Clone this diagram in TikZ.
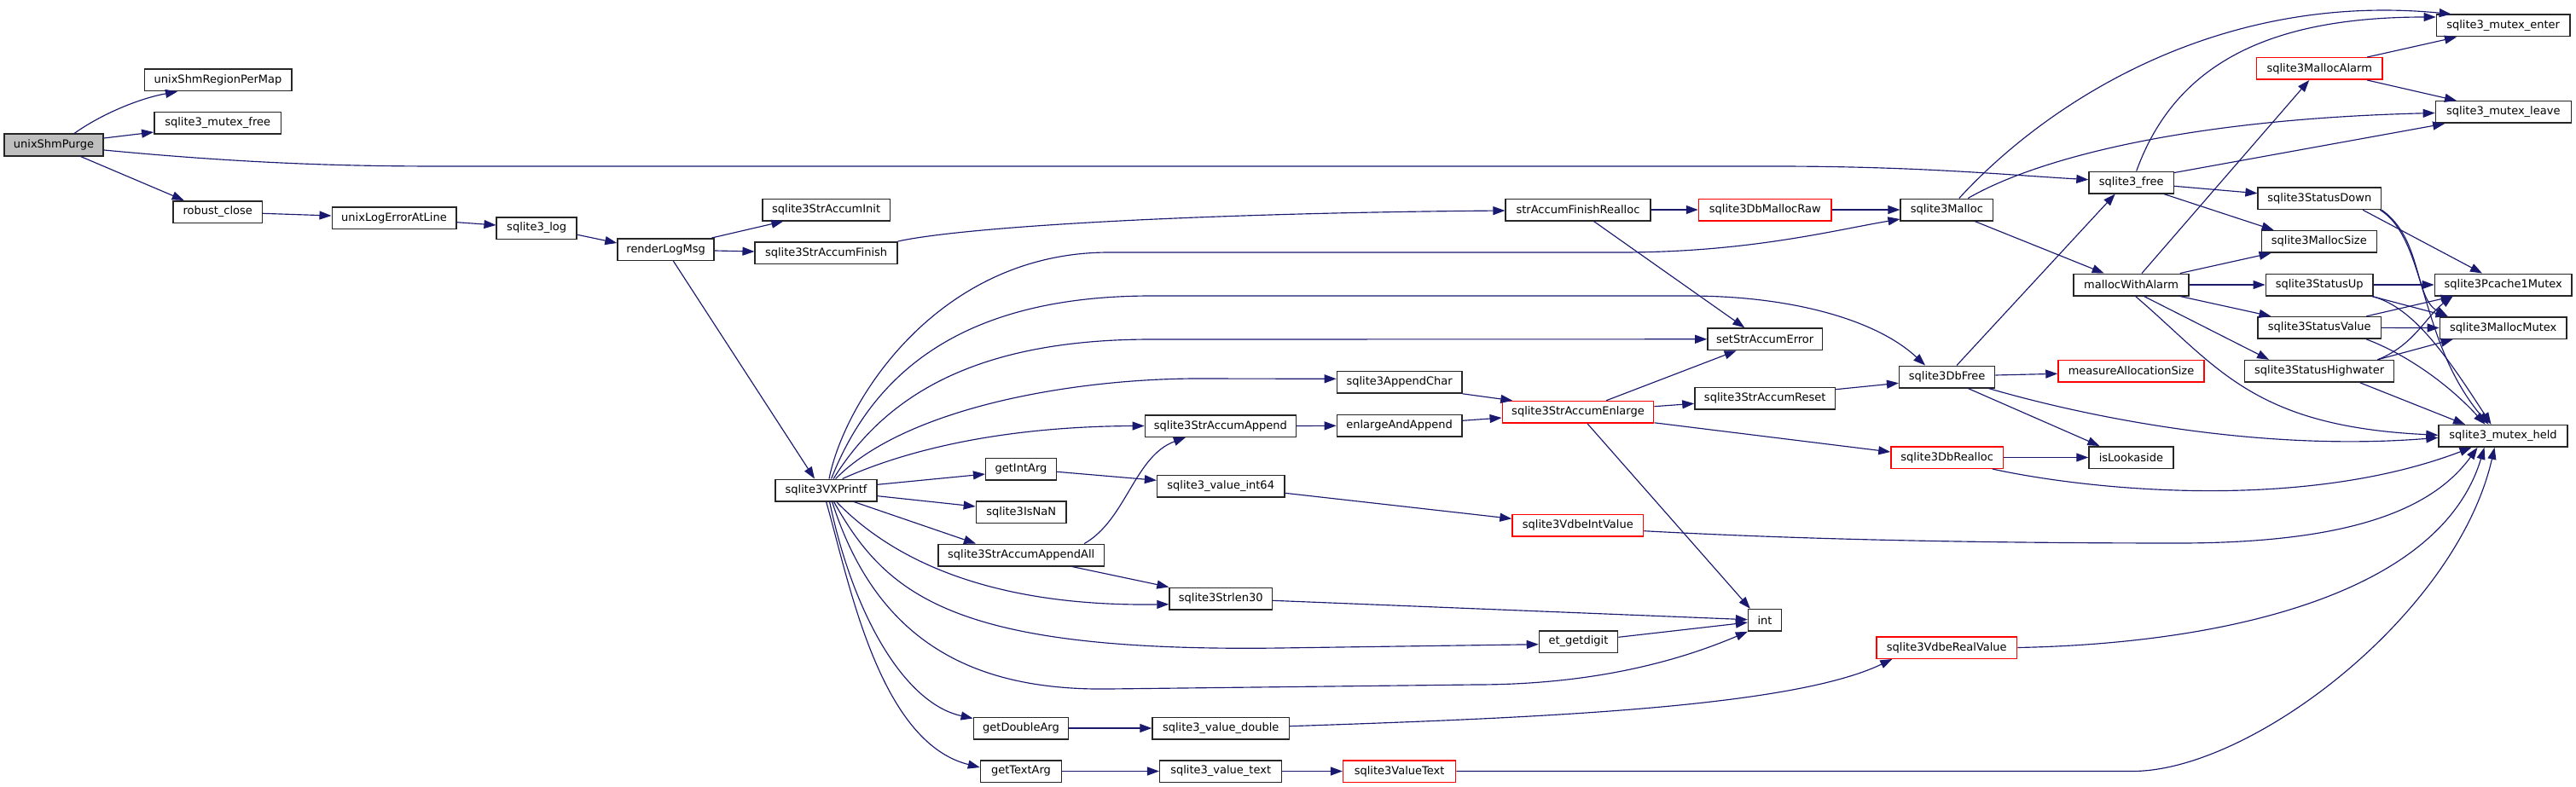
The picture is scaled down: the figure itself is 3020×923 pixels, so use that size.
\documentclass[tikz,border=0pt]{standalone}
\usepackage{fontspec}
\setmainfont{DejaVu Sans}
\usetikzlibrary{arrows.meta}
\definecolor{mblue}{HTML}{191970}
\definecolor{rootgray}{HTML}{BFBFBF}
\newcommand\fsz{\fontsize{13pt}{15pt}\selectfont}
\begin{document}
\begin{tikzpicture}[x=1pt,y=-1pt,
 fn/.style={draw=black!85,fill=white,line width=1.5pt,minimum height=25.5pt,inner sep=0pt,font=\fsz},
 fnred/.style={fn,draw=red},
 fnroot/.style={fn,fill=rootgray},
 call/.style={draw=mblue,line width=1.15pt,-{Triangle[length=14pt,width=10pt]}}]
\fill[white] (0,0) rectangle (3020,923);
\useasboundingbox (0,0) rectangle (3020,923);

\node[fnroot,minimum width=116.4pt] (purge) at (63,170) {unixShmPurge};
\node[fn,minimum width=172.5pt] (regmap) at (255.5,94) {unixShmRegionPerMap};
\node[fn,minimum width=148.8pt] (mfree) at (255.2,144.5) {sqlite3\_mutex\_free};
\node[fn,minimum width=104.2pt] (rclose) at (255.2,248.5) {robust\_close};
\node[fn,minimum width=145.5pt] (ulog) at (462,255.5) {unixLogErrorAtLine};
\node[fn,minimum width=94pt] (slog) at (629.2,267.5) {sqlite3\_log};
\node[fn,minimum width=113.2pt] (render) at (780.6,292.5) {renderLogMsg};
\node[fn,minimum width=149.5pt] (sinit) at (968.6,246) {sqlite3StrAccumInit};
\node[fn,minimum width=166.8pt] (sfinish) at (968.6,296.5) {sqlite3StrAccumFinish};
\node[fn,minimum width=118.8pt] (vx) at (968.6,575) {sqlite3VXPrintf};
\node[fn,minimum width=82.7pt] (getint) at (1197,550) {getIntArg};
\node[fn,minimum width=105.6pt] (isnan) at (1197.2,600.5) {sqlite3IsNaN};
\node[fn,minimum width=194.4pt] (appall) at (1197.2,651) {sqlite3StrAccumAppendAll};
\node[fn,minimum width=111.3pt] (getdbl) at (1197,854) {getDoubleArg};
\node[fn,minimum width=95pt] (gettxt) at (1197,904.5) {getTextArg};
\node[fn,minimum width=177.1pt] (sappend) at (1430.9,499.5) {sqlite3StrAccumAppend};
\node[fn,minimum width=149.2pt] (vint64) at (1431.2,570) {sqlite3\_value\_int64};
\node[fn,minimum width=120.3pt] (strlen) at (1431.2,702) {sqlite3Strlen30};
\node[fn,minimum width=160.3pt] (vdbl) at (1431.2,854) {sqlite3\_value\_double};
\node[fn,minimum width=143pt] (vtxt) at (1431.2,904.5) {sqlite3\_value\_text};
\node[fn,minimum width=146.4pt] (appchar) at (1640.6,448.3) {sqlite3AppendChar};
\node[fn,minimum width=146.4pt] (enlapp) at (1640.6,499.3) {enlargeAndAppend};
\node[fnred,minimum width=131.9pt] (valtext) at (1640.6,904.5) {sqlite3ValueText};
\node[fn,minimum width=169.7pt] (finrealloc) at (1850,246) {strAccumFinishRealloc};
\node[fnred,minimum width=177.4pt] (enlarge) at (1850,483.3) {sqlite3StrAccumEnlarge};
\node[fnred,minimum width=153.5pt] (vdbeint) at (1849.8,616) {sqlite3VdbeIntValue};
\node[fn,minimum width=92.1pt] (etget) at (1850.5,752.5) {et\_getdigit};
\node[fnred,minimum width=155.6pt] (dbmraw) at (2069.3,246) {sqlite3DbMallocRaw};
\node[fn,minimum width=134.5pt] (seterr) at (2069.2,397.8) {setStrAccumError};
\node[fn,minimum width=164.5pt] (sreset) at (2069.2,467) {sqlite3StrAccumReset};
\node[fn,minimum width=38.8pt] (int) at (2069,727.3) {int};
\node[fn,minimum width=108.3pt] (malloc) at (2282.3,246) {sqlite3Malloc};
\node[fn,minimum width=111.9pt] (dbfree) at (2282.6,442) {sqlite3DbFree};
\node[fnred,minimum width=131.5pt] (dbrealloc) at (2282.7,536.5) {sqlite3DbRealloc};
\node[fnred,minimum width=164.8pt] (vdbereal) at (2282.3,759.5) {sqlite3VdbeRealValue};
\node[fn,minimum width=99.3pt] (sfree) at (2498.7,214) {sqlite3\_free};
\node[fn,minimum width=135pt] (mwa) at (2498.5,334) {mallocWithAlarm};
\node[fnred,minimum width=171pt] (measure) at (2498.5,435) {measureAllocationSize};
\node[fn,minimum width=98.8pt] (islook) at (2498.4,536.5) {isLookaside};
\node[fnred,minimum width=147.2pt] (malarm) at (2719.2,80.5) {sqlite3MallocAlarm};
\node[fn,minimum width=144.3pt] (sdown) at (2719.3,232.7) {sqlite3StatusDown};
\node[fn,minimum width=135pt] (msize) at (2718.8,283.3) {sqlite3MallocSize};
\node[fn,minimum width=125.7pt] (sup) at (2719.2,334) {sqlite3StatusUp};
\node[fn,minimum width=144.3pt] (svalue) at (2719.3,384.4) {sqlite3StatusValue};
\node[fn,minimum width=175.2pt] (shigh) at (2719.1,435.3) {sqlite3StatusHighwater};
\node[fn,minimum width=156.4pt] (menter) at (2934.6,30) {sqlite3\_mutex\_enter};
\node[fn,minimum width=158.9pt] (mleave) at (2934.8,131.5) {sqlite3\_mutex\_leave};
\node[fn,minimum width=160.7pt] (pcache) at (2934.7,334) {sqlite3Pcache1Mutex};
\node[fn,minimum width=148.7pt] (mmutex) at (2934.7,384.5) {sqlite3MallocMutex};
\node[fn,minimum width=151pt] (mheld) at (2934.5,511.3) {sqlite3\_mutex\_held};

% unixShmPurge
\draw[call] ([xshift=24pt]purge.north) .. controls (120,133) and (165,115) .. ([xshift=-47.5pt]regmap.south);
\draw[call] ([yshift=8pt]purge.east) -- ([yshift=-10.5pt]mfree.west);
\draw[call] ([yshift=-6pt]purge.east) .. controls (300,193) and (420,195) .. (520,195) -- (2080,195) .. controls (2250,195) and (2350,205) .. ([yshift=3.3pt]sfree.west);
\draw[call] ([xshift=31.5pt]purge.south) -- ([xshift=-39.5pt]rclose.north);
\draw[call] ([yshift=-1.8pt]rclose.east) -- ([yshift=2.5pt]ulog.west);
\draw[call] ([yshift=-5.2pt]ulog.east) -- ([yshift=3.5pt]slog.west);
\draw[call] ([yshift=-7.8pt]slog.east) -- ([yshift=7.5pt]render.west);
\draw[call] ([xshift=-3.5pt]render.north east) -- ([xshift=-50.2pt]sinit.south);
\draw[call] ([yshift=-1.5pt]render.east) -- ([yshift=1.5pt]sfinish.west);
\draw[call] ([xshift=8.7pt]render.south) -- ([xshift=-13.6pt]vx.north);
\draw[call] (sfinish.north east) .. controls (1130,266) and (1400,250) .. ([yshift=-1pt]finrealloc.west);
\draw[call] (finrealloc.east) -- (dbmraw.west);
\draw[call] ([xshift=18.4pt]finrealloc.south) -- ([xshift=-23.9pt]seterr.north);
\draw[call] (dbmraw.east) -- (malloc.west);

% sqlite3VXPrintf
\draw[call] ([xshift=3.4pt]vx.north) .. controls (990,470) and (1100,296) .. (1300,296) -- (1900,296) .. controls (2050,296) and (2150,270) .. ([yshift=-11pt]malloc.west);
\draw[call] ([xshift=6pt]vx.north) .. controls (1030,420) and (1150,347) .. (1350,347) -- (1980,347) .. controls (2100,347) and (2200,375) .. ([xshift=-25.6pt]dbfree.north);
\draw[call] ([xshift=8.5pt]vx.north) .. controls (1040,460) and (1150,398) .. (1350,398) -- (seterr.west);
\draw[call] ([xshift=11pt]vx.north) .. controls (1060,480) and (1250,445) .. (1400,444) -- ([yshift=4pt]appchar.west);
\draw[call] ([xshift=19pt]vx.north) .. controls (1080,520) and (1200,500) .. (sappend.west);
\draw[call] ([yshift=6.7pt]vx.east) -- ([yshift=-6pt]getint.west);
\draw[call] ([yshift=-6.7pt]vx.east) -- ([yshift=6.5pt]isnan.west);
\draw[call] ([xshift=32.4pt]vx.south) -- ([xshift=-53.2pt]appall.north);
\draw[call] ([xshift=12pt]vx.south) .. controls (1040,650) and (1150,712) .. ([yshift=-6.7pt]strlen.west);
\draw[call] ([xshift=9pt]vx.south) .. controls (1040,700) and (1120,765) .. (1500,760) -- ([yshift=-3.2pt]etget.west);
\draw[call] ([xshift=7pt]vx.south) .. controls (1030,760) and (1150,810) .. (1300,808) -- (1730,803) .. controls (1880,803) and (1980,770) .. (int.south west);
\draw[call] ([xshift=4pt]vx.south) .. controls (1000,720) and (1060,825) .. ([yshift=-2pt]getdbl.north west);
\draw[call] (vx.south) .. controls (995,680) and (1030,870) .. ([yshift=4.5pt]gettxt.west);

\draw[call] ([yshift=-3.3pt]getint.east) -- ([yshift=6.7pt]vint64.west);
\draw[call] ([xshift=74pt]appall.north) .. controls (1320,610) and (1330,535) .. ([xshift=-41pt]sappend.south);
\draw[call] ([xshift=59.5pt]appall.south) -- (strlen.north west);
\draw[call] (sappend.east) -- (enlapp.west);
\draw[call] ([yshift=6pt]enlapp.east) -- ([yshift=-6.7pt]enlarge.west);
\draw[call] (appchar.south east) -- ([xshift=12.7pt]enlarge.north west);
\draw[call] ([xshift=33pt]enlarge.north) -- ([xshift=-33.6pt]seterr.south);
\draw[call] ([yshift=6.6pt]enlarge.east) -- ([yshift=-6.3pt]sreset.west);
\draw[call] ([yshift=1pt]enlarge.south east) -- ([yshift=6.5pt]dbrealloc.west);
\draw[call] ([xshift=11pt]enlarge.south) -- ([xshift=3pt]int.north west);
\draw[call] ([yshift=10.3pt]sreset.east) -- ([yshift=-7.3pt]dbfree.west);
\draw[call] ([yshift=-8.3pt]vint64.east) -- ([yshift=7.7pt]vdbeint.west);
\draw[call] ([yshift=-6.7pt]vdbeint.east) .. controls (2100,632) and (2300,637) .. (2560,637) .. controls (2750,636) and (2850,600) .. ([xshift=-30pt]mheld.south);
\draw[call] ([yshift=-2.3pt]strlen.east) -- ([yshift=0.6pt]int.west);
\draw[call] ([yshift=5.2pt]etget.east) -- ([yshift=-2.7pt]int.west);
\draw[call] (getdbl.east) -- (vdbl.west);
\draw[call] ([yshift=2.3pt]vdbl.east) .. controls (1800,842) and (2100,830) .. ([xshift=-64pt]vdbereal.south);
\draw[call] (vdbereal.east) .. controls (2600,755) and (2860,700) .. ([xshift=-22pt]mheld.south);
\draw[call] (gettxt.east) -- (vtxt.west);
\draw[call] (vtxt.east) -- (valtext.west);
\draw[call] (valtext.east) -- (2500,904.5) .. controls (2640,904.5) and (2880,720) .. ([xshift=-10pt]mheld.south);

% malloc side
\draw[call] ([xshift=14.5pt]malloc.north) .. controls (2400,120) and (2600,-10) .. ([xshift=18pt]menter.north west);
\draw[call] ([xshift=25pt]malloc.north) .. controls (2380,190) and (2550,140) .. ([yshift=-1pt]mleave.west);
\draw[call] ([xshift=32.7pt]malloc.south) -- ([xshift=-31.8pt]mwa.north);
\draw[call] ([xshift=6pt]sfree.north) .. controls (2550,75) and (2660,20) .. ([yshift=10pt]menter.west);
\draw[call] ([yshift=-2pt]sfree.north east) -- ([xshift=11.5pt]mleave.south west);
\draw[call] ([yshift=-4.3pt]sfree.east) -- ([yshift=6pt]sdown.west);
\draw[call] ([xshift=38pt]sfree.south) -- ([xshift=15pt]msize.north west);
\draw[call] ([xshift=56pt]malarm.north) -- ([xshift=-54.6pt]menter.south);
\draw[call] ([xshift=56pt]malarm.south) -- ([xshift=-54.8pt]mleave.north);
\draw[call] ([xshift=12.5pt]mwa.north) -- ([xshift=-12pt]malarm.south);
\draw[call] ([xshift=-11pt]mwa.north east) -- ([xshift=12pt]msize.south west);
\draw[call] (mwa.east) -- (sup.west);
\draw[call] ([xshift=-11pt]mwa.south east) -- ([xshift=16pt]svalue.north west);
\draw[call] ([xshift=15pt]mwa.south) -- ([xshift=-59pt]shigh.north);
\draw[call] ([xshift=5pt]mwa.south) .. controls (2600,430) and (2640,500) .. ([yshift=1pt]mheld.west);

% status functions
\draw[call] ([xshift=50.7pt]sdown.south) -- ([xshift=-24.7pt]pcache.north);
\draw[call] (sdown.south east) .. controls (2840,280) and (2830,350) .. ([xshift=10pt]mmutex.north west);
\draw[call] ([xshift=-2pt]sdown.south east) .. controls (2845,280) and (2835,400) .. ([xshift=-17pt]mheld.north);
\draw[call] (sup.east) -- (pcache.west);
\draw[call] ([xshift=-2pt]sup.south east) -- ([xshift=10pt]mmutex.north west);
\draw[call] ([xshift=-2pt]sup.south east) .. controls (2830,360) and (2870,420) .. ([xshift=-14pt]mheld.north);
\draw[call] ([xshift=-18pt]svalue.north east) -- ([xshift=22pt]pcache.south west);
\draw[call] (svalue.east) -- (mmutex.west);
\draw[call] ([xshift=-18pt]svalue.south east) .. controls (2820,415) and (2870,450) .. ([xshift=-21pt]mheld.north);
\draw[call] ([xshift=-20pt]shigh.north east) .. controls (2830,405) and (2845,370) .. ([xshift=22pt]pcache.south west);
\draw[call] ([xshift=-20pt]shigh.north east) -- ([xshift=16pt]mmutex.south west);
\draw[call] ([xshift=47.6pt]shigh.south) -- ([xshift=-44.5pt]mheld.north);

% sqlite3DbFree / sqlite3DbRealloc
\draw[call] ([xshift=11.4pt]dbfree.north) -- ([xshift=-19pt]sfree.south);
\draw[call] ([yshift=2pt]dbfree.east) -- ([yshift=-3.3pt]measure.west);
\draw[call] ([xshift=24.6pt]dbfree.south) -- ([xshift=-37pt]islook.north);
\draw[call] ([xshift=-8pt]dbfree.south east) .. controls (2450,490) and (2650,530) .. ([yshift=-2pt]mheld.west);
\draw[call] (dbrealloc.east) -- (islook.west);
\draw[call] ([xshift=53pt]dbrealloc.south) .. controls (2450,575) and (2700,600) .. ([xshift=-37pt]mheld.south);
\end{tikzpicture}
\end{document}
